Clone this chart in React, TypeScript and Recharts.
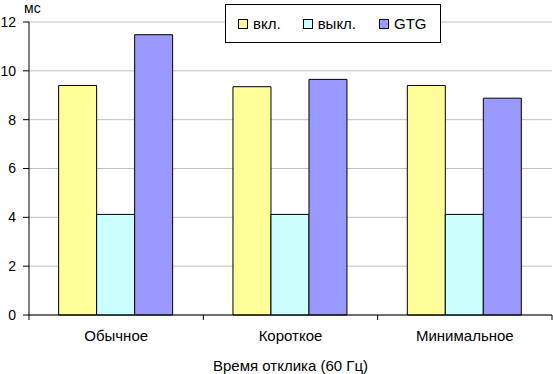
import { BarChart, Bar, XAxis, YAxis, CartesianGrid } from 'recharts';

const categories = ['Обычное', 'Короткое', 'Минимальное'];
const onValues = [9.4, 9.35, 9.4];
const offValues = [4.12, 4.12, 4.12];
const gtgValues = [11.48, 9.65, 8.88];
const yTicks = [0, 2, 4, 6, 8, 10, 12];

const series = [
  { key: 'on', name: 'вкл.', color: '#FFFF99' },
  { key: 'off', name: 'выкл.', color: '#CCFFFF' },
  { key: 'gtg', name: 'GTG', color: '#9999FF' },
];

const chartData = categories.map((c, i) => ({
  name: c,
  on: onValues[i],
  off: offValues[i],
  gtg: gtgValues[i],
}));

const W = 553;
const H = 374;
const LEFT = 29;
const RIGHT = 1;
const font = 'Arial, "Liberation Sans", sans-serif';
const band = (W - LEFT - RIGHT) / categories.length;

const CategoryTick = ({ x, y, payload, index }: any) => {
  const axisY = y - 15;
  const left = x - band / 2;
  return (
    <g>
      <line x1={left} x2={left} y1={axisY} y2={axisY + 5} stroke="#000" />
      {index === categories.length - 1 && (
        <line x1={left + band} x2={left + band} y1={axisY} y2={axisY + 5} stroke="#000" />
      )}
      <text x={x} y={y} dy="0.71em" textAnchor="middle" fill="#000" fontSize={15} fontFamily={font}>
        {payload.value}
      </text>
    </g>
  );
};

const LegendBox = () => (
  <div
    style={{
      position: 'absolute',
      left: 225,
      top: 4,
      width: 214,
      height: 37,
      border: '1px solid #000',
      background: '#fff',
      display: 'flex',
      alignItems: 'center',
      fontFamily: font,
      fontSize: 15,
    }}
  >
    {series.map((s, i) => (
      <div
        key={s.key}
        style={{ display: 'flex', alignItems: 'center', marginLeft: i === 0 ? 12 : i === 1 ? 22 : 23 }}
      >
        <span
          style={{
            display: 'inline-block',
            width: 8,
            height: 8,
            background: s.color,
            border: '1px solid #000',
            marginRight: 5,
          }}
        />
        <span>{s.name}</span>
      </div>
    ))}
  </div>
);

export default function App() {
  return (
    <div style={{ position: 'absolute', left: 0, top: 0, width: W, height: H, background: '#fff' }}>
      <BarChart
        width={W}
        height={H}
        data={chartData}
        margin={{ top: 22, right: RIGHT, bottom: 0, left: 0 }}
        barCategoryGap="17%"
        barGap={0}
      >
        <CartesianGrid vertical={false} stroke="#C0C0C0" />
        <XAxis
          dataKey="name"
          height={59}
          tickLine={false}
          tickSize={5}
          tickMargin={10}
          tick={<CategoryTick />}
          axisLine={{ stroke: '#000' }}
          label={{
            value: 'Время отклика (60 Гц)',
            position: 'insideBottom',
            offset: 3,
            fill: '#000',
            fontSize: 15,
            fontFamily: font,
          }}
        />
        <YAxis
          width={LEFT}
          domain={[0, 12]}
          ticks={yTicks}
          interval={0}
          tickSize={6}
          tickMargin={7}
          axisLine={{ stroke: '#000' }}
          tickLine={{ stroke: '#000' }}
          tick={{ fill: '#000', fontSize: 14, fontFamily: font }}
        />
        <YAxis
          yAxisId="frame"
          orientation="right"
          width={0}
          domain={[0, 12]}
          tick={false}
          tickLine={false}
          axisLine={{ stroke: '#C0C0C0' }}
        />
        {series.map((s) => (
          <Bar
            key={s.key}
            dataKey={s.key}
            name={s.name}
            fill={s.color}
            stroke="#000"
            strokeWidth={1}
            isAnimationActive={false}
          />
        ))}
      </BarChart>
      <div style={{ position: 'absolute', left: 24, top: 1, fontFamily: font, fontSize: 14, lineHeight: '14px' }}>
        мс
      </div>
      <LegendBox />
    </div>
  );
}
